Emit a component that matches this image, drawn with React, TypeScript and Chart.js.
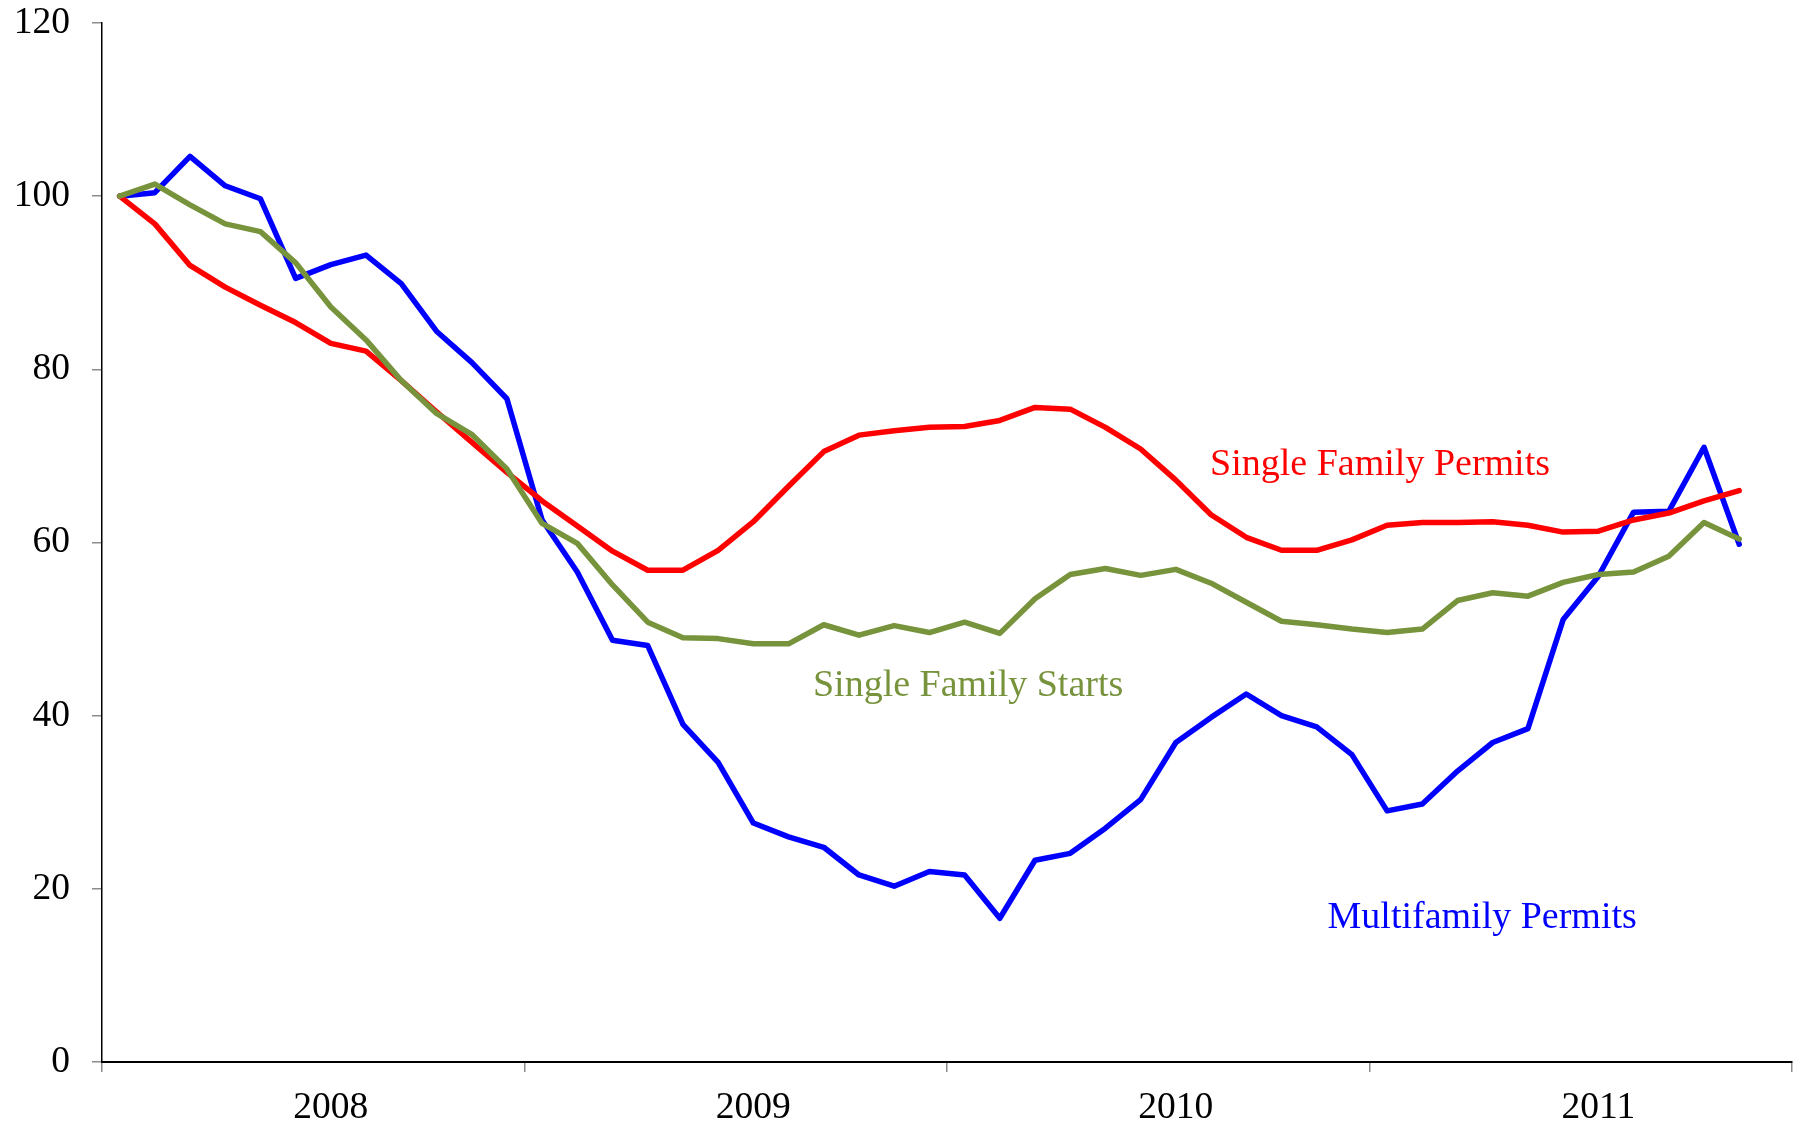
import React, { useEffect, useRef } from "react";
import { Chart, registerables } from "chart.js";

Chart.register(...registerables);

// ---- Data (monthly index, Jan 2008 = 100) ----
const years = ["2008", "2009", "2010", "2011"];
const monthsPerYear = 12;

const multifamilyPermits = [
  100, 100.4, 104.6, 101.2, 99.7, 90.5, 92.1, 93.2, 89.9, 84.4, 80.8, 76.6,
  62.6, 56.6, 48.7, 48.1, 39.0, 34.6, 27.6, 26.0, 24.8, 21.6, 20.3, 22.0,
  21.6, 16.6, 23.3, 24.1, 27.0, 30.3, 36.9, 39.8, 42.5, 40.0, 38.7, 35.5,
  29.0, 29.8, 33.6, 36.9, 38.5, 51.1, 56.1, 63.5, 63.6, 71.0, 59.8,
];

const singleFamilyPermits = [
  100, 96.8, 92.0, 89.5, 87.4, 85.4, 83.0, 82.1, 78.7, 75.1, 71.6, 68.1,
  64.8, 61.9, 59.0, 56.8, 56.8, 59.1, 62.4, 66.5, 70.5, 72.4, 72.9, 73.3,
  73.4, 74.1, 75.6, 75.4, 73.3, 70.8, 67.2, 63.2, 60.6, 59.1, 59.1, 60.3,
  62.0, 62.3, 62.3, 62.4, 62.0, 61.2, 61.3, 62.6, 63.4, 64.8, 66.0,
];

const singleFamilyStarts = [
  100, 101.4, 99.0, 96.8, 95.9, 92.3, 87.2, 83.4, 78.7, 74.9, 72.5, 68.5,
  62.2, 59.9, 55.1, 50.8, 49.0, 48.9, 48.3, 48.3, 50.5, 49.3, 50.4, 49.6,
  50.8, 49.5, 53.5, 56.3, 57.0, 56.2, 56.9, 55.3, 53.1, 50.9, 50.5, 50.0,
  49.6, 50.0, 53.3, 54.2, 53.8, 55.4, 56.3, 56.6, 58.4, 62.3, 60.4,
];

const yTicks = [0, 20, 40, 60, 80, 100, 120];

const seriesNames = ["Single Family Starts", "Single Family Permits", "Multifamily Permits"];
const seriesColors = ["#77933C", "#FF0000", "#0000FF"];
// label anchor positions in data coordinates (month index, value)
const labelMonths = [24.6, 36.3, 39.2];
const labelValues = [43.4, 69.0, 16.6];

const FONT = '"Liberation Serif", "Times New Roman", serif';

const toPoints = (arr: number[]) => arr.map((v, i) => ({ x: i + 0.5, y: v }));

const labelPlugin = {
  id: "seriesLabels",
  afterDatasetsDraw(chart: any) {
    const { ctx, scales } = chart;
    ctx.save();
    ctx.font = `38px ${FONT}`;
    ctx.textAlign = "center";
    ctx.textBaseline = "middle";
    seriesNames.forEach((name, i) => {
      ctx.fillStyle = seriesColors[i];
      ctx.fillText(
        name,
        scales.x.getPixelForValue(labelMonths[i]),
        scales.y.getPixelForValue(labelValues[i])
      );
    });
    ctx.restore();
  },
};

export default function App() {
  const canvasRef = useRef<HTMLCanvasElement | null>(null);

  useEffect(() => {
    document.body.style.margin = "0";
    document.body.style.overflow = "hidden";
    const canvas = canvasRef.current;
    if (!canvas) return;
    const totalMonths = years.length * monthsPerYear;
    const tickValues: number[] = [];
    for (let y = 0; y <= years.length; y++) {
      tickValues.push(y * monthsPerYear);
      if (y < years.length) tickValues.push(y * monthsPerYear + 6.5);
    }
    const seriesData = [singleFamilyStarts, singleFamilyPermits, multifamilyPermits];
    const chart = new Chart(canvas, {
      type: "line",
      data: {
        datasets: seriesData.map((d, i) => ({
          label: seriesNames[i],
          data: toPoints(d),
          borderColor: seriesColors[i],
          backgroundColor: seriesColors[i],
          borderWidth: 5.5,
          pointRadius: 0,
          tension: 0,
          borderJoinStyle: "round",
          borderCapStyle: "round",
          fill: false,
        })),
      },
      options: {
        animation: false,
        responsive: true,
        maintainAspectRatio: false,
        layout: { padding: { top: 23, right: 2, left: 0, bottom: 0 } },
        plugins: {
          legend: { display: false },
          tooltip: { enabled: false },
        },
        scales: {
          x: {
            type: "linear",
            min: 0,
            max: totalMonths,
            afterBuildTicks: (scale: any) => {
              scale.ticks = tickValues.map((v) => ({ value: v }));
            },
            afterFit: (scale: any) => {
              scale.height = 67;
              scale.paddingLeft = 0;
              scale.paddingRight = 0;
            },
            ticks: {
              autoSkip: false,
              maxRotation: 0,
              padding: 14,
              color: "#000",
              font: { family: FONT, size: 37.5 },
              callback: (value: any) => {
                const v = Number(value);
                const r = v % monthsPerYear;
                if (Math.abs(r - 6.5) < 0.01) return years[Math.floor(v / monthsPerYear)];
                return "";
              },
            },
            grid: {
              drawOnChartArea: false,
              drawTicks: true,
              tickLength: 10,
              lineWidth: 1.5,
              color: (ctx: any) => {
                const v = ctx.tick ? ctx.tick.value : 0;
                return v % monthsPerYear === 0 ? "#8c8c8c" : "rgba(0,0,0,0)";
              },
            },
            border: { display: true, color: "#000", width: 2 },
          },
          y: {
            min: 0,
            max: 120,
            afterBuildTicks: (scale: any) => {
              scale.ticks = yTicks.map((v) => ({ value: v }));
            },
            afterFit: (scale: any) => {
              scale.width = 102;
              scale.paddingTop = 0;
              scale.paddingBottom = 0;
            },
            ticks: {
              padding: 22,
              color: "#000",
              font: { family: FONT, size: 37.5 },
            },
            grid: {
              drawOnChartArea: false,
              drawTicks: true,
              tickLength: 10,
              lineWidth: 1.5,
              color: "#8c8c8c",
            },
            border: { display: true, color: "#000", width: 1.5 },
          },
        },
      },
      plugins: [labelPlugin],
    } as any);
    return () => chart.destroy();
  }, []);

  return (
    <div style={{ width: 1794, height: 1129, position: "relative", background: "#fff" }}>
      <canvas ref={canvasRef} />
    </div>
  );
}
